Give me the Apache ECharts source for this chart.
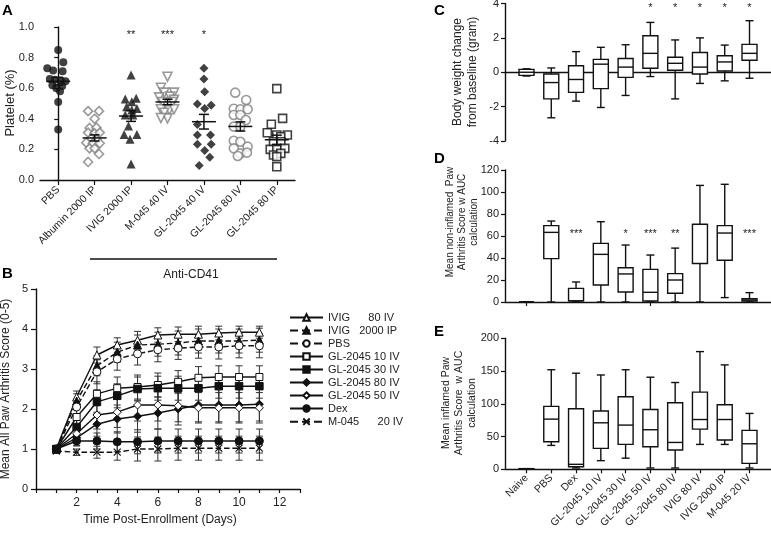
<!DOCTYPE html>
<html><head><meta charset="utf-8">
<script src="https://cdn.jsdelivr.net/npm/echarts@6/dist/echarts.min.js"></script>
<style>html,body{margin:0;padding:0;background:#fff}#c{width:771px;height:535px}</style>
</head><body><div id="c"></div>
<script>
// ---------- Panel A: platelet scatter ----------
const aCategories = ['PBS','Albumin 2000 IP','IVIG 2000 IP','M-045 40 IV','GL-2045 40 IV','GL-2045 80 IV','GL-2045 80 IP'];
const aYTicks = [0, 0.2, 0.4, 0.6, 0.8, 1.0];
// [x jitter (category units), platelet %]
const aPBS = [[0,0.85],[-0.3,0.73],[-0.14,0.715],[0.14,0.77],[0.12,0.71],[-0.23,0.66],[-0.09,0.655],[0.07,0.65],[0.2,0.645],[-0.16,0.62],[0.11,0.615],[-0.05,0.6],[0.05,0.58],[0,0.51],[0,0.33]];
const aAlbumin = [[-0.18,0.45],[0.12,0.45],[0,0.40],[-0.14,0.34],[0.05,0.342],[-0.18,0.31],[0,0.305],[0.14,0.31],[-0.09,0.272],[0.05,0.265],[-0.23,0.244],[-0.05,0.24],[0.14,0.24],[-0.14,0.207],[0,0.207],[0.12,0.17],[-0.18,0.118]];
const aIVIG = [[0,0.686],[-0.16,0.53],[0.14,0.534],[0.02,0.512],[-0.12,0.479],[0.02,0.457],[0.16,0.468],[-0.16,0.425],[0.05,0.425],[-0.07,0.353],[-0.19,0.298],[0.16,0.298],[-0.03,0.266],[0,0.105]];
const aM045 = [[0,0.675],[-0.18,0.603],[0.18,0.571],[-0.09,0.571],[-0.23,0.54],[0.07,0.545],[0.18,0.525],[-0.14,0.51],[0.14,0.51],[-0.18,0.462],[0.05,0.457],[0.18,0.462],[-0.09,0.44],[0,0.403],[-0.18,0.405]];
const aGL40IV = [[0,0.73],[0,0.66],[0.02,0.577],[-0.18,0.497],[0.2,0.488],[0.02,0.468],[-0.18,0.362],[-0.18,0.294],[0.18,0.294],[-0.18,0.233],[0.2,0.233],[0.02,0.192],[0.16,0.148],[-0.13,0.094]];
const aGL80IV = [[-0.14,0.571],[0.16,0.523],[-0.18,0.466],[0,0.462],[0.2,0.462],[-0.18,0.425],[0,0.425],[0.15,0.392],[-0.18,0.349],[0,0.349],[-0.18,0.257],[0,0.25],[-0.18,0.207],[0.2,0.218],[0,0.174],[0.18,0.179],[-0.07,0.157]];
const aGL80IP = [[0,0.597],[0.16,0.403],[-0.15,0.364],[-0.26,0.309],[0,0.294],[0.29,0.294],[0.11,0.283],[-0.09,0.25],[0.11,0.25],[-0.18,0.2],[0,0.2],[0.22,0.207],[-0.09,0.163],[0.11,0.174],[0,0.153],[0,0.087]];
const aMeans = [0.645,0.275,0.418,0.51,0.381,0.35,0.263];
const aSEM = [0.025,0.02,0.035,0.018,0.048,0.03,0.03];
const aStars = ['','','**','***','*','',''];
const aStarLevel = 0.95;

// ---------- Panel B: arthritis score over time ----------
const bDays = [1,2,3,4,5,6,7,8,9,10,11];
const bNames = ['IVIG      80 IV','IVIG   2000 IP','PBS','GL-2045 10 IV','GL-2045 30 IV','GL-2045 80 IV','GL-2045 50 IV','Dex','M-045      20 IV'];
const bIVIG80 = [1.0,2.3,3.35,3.6,3.72,3.85,3.87,3.87,3.9,3.92,3.92];
const bIVIG2000 = [1.0,2.2,3.08,3.42,3.6,3.62,3.65,3.7,3.7,3.7,3.72];
const bPBS = [1.0,2.05,2.93,3.25,3.38,3.48,3.52,3.55,3.55,3.58,3.58];
const bGL10 = [1.0,1.8,2.38,2.52,2.55,2.6,2.68,2.78,2.8,2.8,2.8];
const bGL30 = [1.0,1.55,2.18,2.33,2.5,2.52,2.52,2.52,2.57,2.57,2.57];
const bGL80 = [1.0,1.28,1.62,1.75,1.82,1.9,2.0,2.1,2.1,2.1,2.12];
const bGL50 = [1.0,1.38,1.85,1.92,2.1,2.1,2.08,2.03,2.03,2.03,2.03];
const bDex = [1.0,1.2,1.2,1.18,1.18,1.2,1.2,1.2,1.2,1.2,1.2];
const bM045 = [0.95,0.92,0.92,0.92,1.0,1.0,1.02,1.02,1.02,1.02,1.02];
const bErrIVIG80 = [0.08,0.15,0.2,0.18,0.22,0.18,0.18,0.2,0.17,0.15,0.15];
const bErrIVIG2000 = [0.08,0.18,0.25,0.25,0.25,0.3,0.3,0.3,0.3,0.3,0.3];
const bErrPBS = [0.08,0.2,0.3,0.28,0.28,0.3,0.28,0.28,0.3,0.3,0.3];
const bErrGL10 = [0.08,0.25,0.3,0.28,0.3,0.3,0.28,0.28,0.28,0.28,0.28];
const bErrGL30 = [0.08,0.22,0.3,0.3,0.3,0.3,0.3,0.3,0.3,0.3,0.3];
const bErrGL80 = [0.08,0.2,0.3,0.35,0.4,0.4,0.4,0.42,0.42,0.42,0.42];
const bErrGL50 = [0.08,0.2,0.35,0.38,0.4,0.4,0.4,0.38,0.38,0.38,0.38];
const bErrDex = [0.08,0.12,0.2,0.25,0.3,0.3,0.3,0.3,0.3,0.3,0.3];
const bErrM045 = [0.05,0.08,0.15,0.2,0.3,0.3,0.3,0.3,0.3,0.3,0.3];

// ---------- Panels C, D, E: box plots [min, q1, median, q3, max] ----------
const boxCategories = ['Naive','PBS','Dex','GL-2045 10 IV','GL-2045 30 IV','GL-2045 50 IV','GL-2045 80 IV','IVIG 80 IV','IVIG 2000 IP','M-045 20 IV'];
const cBox = [[-0.22,-0.18,0.0,0.17,0.2],[-2.65,-1.55,-0.6,-0.1,0.25],[-1.68,-1.17,-0.42,0.38,1.2],[-2.05,-0.95,0.47,0.75,1.45],[-1.35,-0.3,0.3,0.8,1.6],[-0.25,0.23,1.1,2.12,2.9],[-1.55,0.12,0.52,0.87,1.88],[-0.65,-0.1,0.3,1.15,2.0],[-0.5,0.07,0.6,0.96,1.58],[-0.35,0.7,1.1,1.62,3.0]];
const cStars = ['','','','','','*','*','*','*','*'];
const cStarLevel = 3.75;
const dBox = [[0,0,0,0,0],[0,39.4,63.3,69.4,73.6],[0,1,1,12.4,18.2],[0,15.5,43.3,53.3,73],[0,9.1,25.5,31.2,51.8],[0,0.9,8.8,29.7,42.7],[0,7.9,20,25.8,49],[0,35,70.6,70.6,106],[4,38,62.7,69.4,107],[0,0.9,1.8,3,8.5]];
const dStars = ['','','***','','*','***','**','','','***'];
const dStarLevel = 62;
const eBox = [[0,0,0,1,1],[36.5,42,76.6,96,152],[2,4,7.6,92.4,146.7],[13.2,32,71,89,144],[17,38,67.5,110.7,152],[2,34.5,60.4,91.4,140.6],[2,29.4,41,101.5,132.5],[38,61.4,76,117.8,179.7],[38,44.7,76,98.5,159.4],[2,9,39,59.4,85.3]];

// ---------- styling / build ----------
const FONT = 'Liberation Sans, Arial, Helvetica, sans-serif';
const INK = '#111';
const GRAY = '#808080';
const labelColor = '#222';

function starSeries(xi, yi, stars, level, fs){
  return {type:'custom', xAxisIndex:xi, yAxisIndex:yi, z:5,
    data: stars.map((s,i)=>[i, level]),
    renderItem(p, api){
      const s = stars[p.dataIndex]; if(!s) return null;
      const c = api.coord([api.value(0), api.value(1)]);
      return {type:'text', x:c[0], y:c[1], style:{text:s, align:'center', verticalAlign:'middle', font: fs+'px '+FONT, fill:'#222'}};
    }};
}
function boxSeries(xi, yi, box){
  return {type:'custom', xAxisIndex:xi, yAxisIndex:yi, z:3,
    data: box.map((b,i)=>[i].concat(b)),
    renderItem(p, api){
      const i = api.value(0);
      const lo = api.coord([i, api.value(1)]), q1 = api.coord([i, api.value(2)]),
            md = api.coord([i, api.value(3)]), q3 = api.coord([i, api.value(4)]), hi = api.coord([i, api.value(5)]);
      const x = lo[0], hw = 7.5, cw = 4;
      const st = {stroke:INK, lineWidth:1.4, fill:null};
      return {type:'group', children:[
        {type:'line', shape:{x1:x,y1:hi[1],x2:x,y2:q3[1]}, style:st},
        {type:'line', shape:{x1:x,y1:q1[1],x2:x,y2:lo[1]}, style:st},
        {type:'line', shape:{x1:x-cw,y1:hi[1],x2:x+cw,y2:hi[1]}, style:st},
        {type:'line', shape:{x1:x-cw,y1:lo[1],x2:x+cw,y2:lo[1]}, style:st},
        {type:'rect', shape:{x:x-hw,y:q3[1],width:2*hw,height:q1[1]-q3[1]}, style:{stroke:INK,lineWidth:1.4,fill:'#fff'}},
        {type:'line', shape:{x1:x-hw,y1:md[1],x2:x+hw,y2:md[1]}, style:st}
      ]};
    }};
}

const gridBase = {containLabel:false, outerBoundsMode:'none'};
const grids = [
  Object.assign({left:40, top:27, width:255, height:153}, gridBase),      // A
  Object.assign({left:36, top:289, width:264, height:200}, gridBase),     // B
  Object.assign({left:505, top:3.5, width:266, height:137.5}, gridBase),  // C frame
  Object.assign({left:514.1, top:3.5, width:247.8, height:137.5}, gridBase), // C data
  Object.assign({left:505, top:170, width:266, height:132}, gridBase),    // D frame
  Object.assign({left:514.1, top:170, width:247.8, height:132}, gridBase),
  Object.assign({left:505, top:338.3, width:266, height:131}, gridBase),  // E frame
  Object.assign({left:514.1, top:338.3, width:247.8, height:131}, gridBase)
];

const axLine = {show:true, lineStyle:{color:INK, width:1.4}};
const axTick = {show:true, length:4, lineStyle:{color:INK, width:1.2}};
const lbl = (fs, extra)=>Object.assign({color:labelColor, fontSize:fs, fontFamily:FONT}, extra||{});
const noSplit = {show:false};

const xAxes = [
  {type:'category', gridIndex:0, data:aCategories, axisLine:axLine, axisTick:Object.assign({alignWithLabel:true}, axTick, {length:5}),
   axisLabel:lbl(10.5,{rotate:45, margin:8, interval:0}), splitLine:noSplit},
  {type:'value', gridIndex:0, min:-0.5, max:6.5, show:false},
  {type:'value', gridIndex:1, min:0, max:13, interval:1, axisLine:axLine, axisTick:axTick,
   axisLabel:lbl(12,{margin:8, formatter:v=> (v>0 && v%2===0 && v<=12) ? String(v) : ''}), splitLine:noSplit},
  {type:'value', gridIndex:2, min:0, max:1, axisLine:axLine, axisTick:{show:false}, axisLabel:{show:false}, splitLine:noSplit},
  {type:'category', gridIndex:3, data:boxCategories, show:false},
  {type:'value', gridIndex:4, min:0, max:1, axisLine:axLine, axisTick:{show:false}, axisLabel:{show:false}, splitLine:noSplit},
  {type:'category', gridIndex:5, data:boxCategories, axisLine:{show:false}, axisTick:Object.assign({alignWithLabel:true}, axTick), axisLabel:{show:false}, splitLine:noSplit},
  {type:'value', gridIndex:6, min:0, max:1, axisLine:axLine, axisTick:{show:false}, axisLabel:{show:false}, splitLine:noSplit},
  {type:'category', gridIndex:7, data:boxCategories, axisLine:{show:false}, axisTick:Object.assign({alignWithLabel:true}, axTick),
   axisLabel:lbl(10.5,{rotate:45, margin:7, interval:0}), splitLine:noSplit}
];
const yAxes = [
  {type:'value', gridIndex:0, min:0, max:1, interval:0.2, axisLine:axLine, axisTick:axTick, axisLabel:lbl(11,{margin:6, formatter:v=>v.toFixed(1)}), splitLine:noSplit},
  {type:'value', gridIndex:1, min:0, max:5, interval:1, axisLine:axLine, axisTick:Object.assign({}, axTick,{length:5}), axisLabel:lbl(11,{margin:8}), splitLine:noSplit},
  {type:'value', gridIndex:2, min:-4, max:4, interval:2, axisLine:axLine, axisTick:axTick, axisLabel:lbl(11,{margin:6}), splitLine:noSplit},
  {type:'value', gridIndex:3, min:-4, max:4, show:false},
  {type:'value', gridIndex:4, min:0, max:120, interval:20, axisLine:axLine, axisTick:axTick, axisLabel:lbl(11,{margin:6}), splitLine:noSplit},
  {type:'value', gridIndex:5, min:0, max:120, show:false},
  {type:'value', gridIndex:6, min:0, max:200, interval:50, axisLine:axLine, axisTick:axTick, axisLabel:lbl(11,{margin:6}), splitLine:noSplit},
  {type:'value', gridIndex:7, min:0, max:200, show:false}
];

// Panel A series
const aGroups = [aPBS, aAlbumin, aIVIG, aM045, aGL40IV, aGL80IV, aGL80IP];
const aStyles = [
  {symbol:'circle', size:8, item:{color:INK}},
  {symbol:'diamond', size:9, item:{color:'#fff', borderColor:GRAY, borderWidth:1.6}},
  {symbol:'triangle', size:9, item:{color:INK}},
  {symbol:'triangle', size:9, rotate:180, item:{color:'#fff', borderColor:GRAY, borderWidth:1.6}},
  {symbol:'diamond', size:9, item:{color:INK}},
  {symbol:'circle', size:9, item:{color:'#fff', borderColor:GRAY, borderWidth:1.6}},
  {symbol:'rect', size:8, item:{color:'#fff', borderColor:INK, borderWidth:1.6}}
];
const series = [];
aGroups.forEach((g, gi)=>{
  const s = aStyles[gi];
  series.push({type:'scatter', xAxisIndex:1, yAxisIndex:0, symbol:s.symbol, symbolSize:s.size, symbolRotate:s.rotate||0,
    itemStyle:s.item, z:2, data:g.map(p=>[gi + p[0], p[1]])});
});
series.push({type:'custom', xAxisIndex:1, yAxisIndex:0, z:4,
  data: aMeans.map((m,i)=>[i, m, aSEM[i]]),
  renderItem(p, api){
    const x = api.value(0), m = api.value(1), e = api.value(2);
    const c = api.coord([x,m]), hi = api.coord([x,m+e]), lo = api.coord([x,m-e]);
    const st = {stroke:INK, lineWidth:1.5};
    return {type:'group', children:[
      {type:'line', shape:{x1:c[0]-12,y1:c[1],x2:c[0]+12,y2:c[1]}, style:st},
      {type:'line', shape:{x1:c[0],y1:hi[1],x2:c[0],y2:lo[1]}, style:st},
      {type:'line', shape:{x1:c[0]-5,y1:hi[1],x2:c[0]+5,y2:hi[1]}, style:st},
      {type:'line', shape:{x1:c[0]-5,y1:lo[1],x2:c[0]+5,y2:lo[1]}, style:st}
    ]};
  }});
series.push(starSeries(1, 0, aStars, aStarLevel, 11));

// Panel B series
const bValues = [bIVIG80, bIVIG2000, bPBS, bGL10, bGL30, bGL80, bGL50, bDex, bM045];
const bErrors = [bErrIVIG80, bErrIVIG2000, bErrPBS, bErrGL10, bErrGL30, bErrGL80, bErrGL50, bErrDex, bErrM045];
const openItem = {color:'#fff', borderColor:INK, borderWidth:1};
const fillItem = {color:INK, borderColor:INK, borderWidth:1};
const bStyles = [
  {symbol:'triangle', size:8, dash:'solid', item:openItem},
  {symbol:'triangle', size:8, dash:'dashed', item:fillItem},
  {symbol:'circle', size:8, dash:'dashed', item:openItem},
  {symbol:'rect', size:7, dash:'solid', item:openItem},
  {symbol:'rect', size:7.5, dash:'solid', item:fillItem},
  {symbol:'diamond', size:8, dash:'solid', item:fillItem},
  {symbol:'diamond', size:8, dash:'solid', item:openItem},
  {symbol:'circle', size:8, dash:'solid', item:fillItem},
  {symbol:'path://M0,0L10,10M10,0L0,10', size:7, dash:'dashed', item:{color:'none', borderColor:INK, borderWidth:1.2}}
];
const errData = [];
bValues.forEach((vals, si)=>vals.forEach((v, di)=>errData.push([bDays[di], v, bErrors[si][di]])));
series.push({type:'custom', xAxisIndex:2, yAxisIndex:1, z:1, data:errData,
  renderItem(p, api){
    const x = api.value(0), m = api.value(1), e = api.value(2);
    const hi = api.coord([x,m+e]), lo = api.coord([x,m-e]);
    const st = {stroke:'#333', lineWidth:1};
    return {type:'group', children:[
      {type:'line', shape:{x1:hi[0],y1:hi[1],x2:lo[0],y2:lo[1]}, style:st},
      {type:'line', shape:{x1:hi[0]-3.5,y1:hi[1],x2:hi[0]+3.5,y2:hi[1]}, style:st},
      {type:'line', shape:{x1:lo[0]-3.5,y1:lo[1],x2:lo[0]+3.5,y2:lo[1]}, style:st}
    ]};
  }});
bValues.forEach((vals, si)=>{
  const s = bStyles[si];
  series.push({type:'line', name:bNames[si], xAxisIndex:2, yAxisIndex:1, z:3,
    symbol:s.symbol, symbolSize:s.size, showSymbol:true, showAllSymbol:true,
    lineStyle:{color:INK, width:1.4, type:s.dash}, itemStyle:s.item, color:INK,
    emphasis:{disabled:true},
    data: bDays.map((d,i)=>[d, vals[i]])});
});

// Panels C, D, E
series.push(boxSeries(4, 3, cBox));
series.push(starSeries(4, 3, cStars, cStarLevel, 11));
series.push(boxSeries(6, 5, dBox));
series.push(starSeries(6, 5, dStars, dStarLevel, 11));
series.push(boxSeries(8, 7, eBox));

function vtext(x, y, text, fs, lh){
  return {type:'text', x:x, y:y, rotation:Math.PI/2, silent:true,
    style:{text:text, align:'center', verticalAlign:'middle', font:fs+'px '+FONT, fill:labelColor, lineHeight:lh||fs+2}};
}
function panelLetter(x, y, t){
  return {type:'text', x:x, y:y, silent:true, style:{text:t, font:'bold 15px '+FONT, fill:'#000', verticalAlign:'top'}};
}
const graphics = [
  panelLetter(2, 3, 'A'), panelLetter(2, 266, 'B'), panelLetter(434, 3, 'C'), panelLetter(434, 151, 'D'), panelLetter(434, 324, 'E'),
  vtext(10, 103, 'Platelet (%)', 13),
  vtext(6, 389, 'Mean All Paw Arthritis Score (0-5)', 12),
  vtext(465, 72, 'Body weight change\nfrom baseline (gram)', 12, 15),
  vtext(462, 222, 'Mean non-inflamed  Paw\nArthritis Score w AUC\ncalculation', 10, 12),
  vtext(459, 403, 'Mean inflamed Paw\nArthritis Score  w AUC\ncalculation', 10.5, 13),
  {type:'text', x:160, y:520, silent:true, style:{text:'Time Post-Enrollment (Days)', align:'center', verticalAlign:'middle', font:'12px '+FONT, fill:labelColor}},
  {type:'line', silent:true, shape:{x1:90, y1:259, x2:277, y2:259}, style:{stroke:INK, lineWidth:1.4}},
  {type:'text', x:191, y:275, silent:true, style:{text:'Anti-CD41', align:'center', verticalAlign:'middle', font:'12px '+FONT, fill:labelColor}}
];

const chart = echarts.init(document.getElementById('c'), null, {renderer:'canvas'});
chart.setOption({
  animation:false,
  backgroundColor:'#fff',
  textStyle:{fontFamily:FONT},
  grid:grids,
  xAxis:xAxes,
  yAxis:yAxes,
  legend:{show:true, orient:'vertical', left:284, top:307, itemWidth:33, itemHeight:8, itemGap:2, selectedMode:false,
    textStyle:{fontSize:11, color:labelColor, fontFamily:FONT, lineHeight:10}, data:bNames},
  series:series,
  graphic:graphics
});
</script></body></html>
